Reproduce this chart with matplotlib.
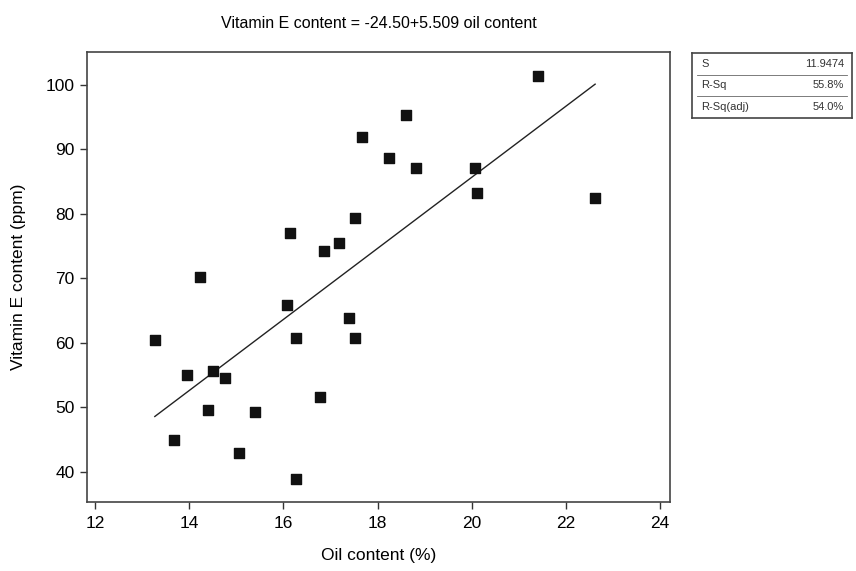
import matplotlib
matplotlib.use("Agg")
import matplotlib.pyplot as plt
import numpy as np

plt.rcParams['font.family'] = ['Liberation Sans', 'DejaVu Sans']

oil = [13.27, 13.68, 13.96, 14.24, 14.40, 14.50, 14.77, 15.05, 15.39, 16.08,
       16.15, 16.27, 16.27, 16.78, 16.86, 17.19, 17.40, 17.53, 17.53, 17.68,
       18.24, 18.60, 18.81, 20.07, 20.12, 21.41, 22.62]
vitE = [60.5, 44.9, 55.1, 70.2, 49.6, 55.7, 54.5, 43.0, 49.3, 65.9,
        77.1, 60.7, 38.9, 51.6, 74.2, 75.5, 63.9, 60.7, 79.4, 91.9,
        88.7, 95.3, 87.1, 87.1, 83.3, 101.4, 82.4]
intercept = -24.50
slope = 5.509
stat_labels = ["S", "R-Sq", "R-Sq(adj)"]
stat_values = ["11.9474", "55.8%", "54.0%"]
xticks = [12, 14, 16, 18, 20, 22, 24]
yticks = [40, 50, 60, 70, 80, 90, 100]

fig = plt.figure(figsize=(8.56, 5.71), dpi=100)
ax = fig.add_axes([87/856, 1-502/571, (670-87)/856, (502-52)/571])

ax.scatter(oil, vitE, marker='s', s=45, color='#111111', zorder=3)
xl = np.array([min(oil), max(oil)])
ax.plot(xl, intercept + slope*xl, color='#222222', lw=1.0)

ax.set_xlim(11.83, 24.21)
ax.set_ylim(35.35, 105.1)
ax.set_xticks(xticks)
ax.set_yticks(yticks)
ax.tick_params(direction='out', length=5, width=1, labelsize=12.5, color='#333333')
ax.tick_params(axis='x', pad=5)
ax.tick_params(axis='y', pad=4)
for s in ax.spines.values():
    s.set_color('#444444')
    s.set_linewidth(1.2)
ax.set_xlabel("Oil content (%)", fontsize=12.5, labelpad=12)
ax.set_ylabel("Vitamin E content (ppm)", fontsize=12.5, labelpad=14)
ax.set_title("Vitamin E content = -24.50+5.509 oil content", fontsize=11.5, pad=17)

# stats box
bx = fig.add_axes([692/856, 1-118/571, (852-692)/856, (118-53)/571])
bx.set_xlim(0, 1)
bx.set_ylim(0, 3)
bx.set_xticks([])
bx.set_yticks([])
for s in bx.spines.values():
    s.set_color('#444444')
    s.set_linewidth(1.2)
for i in (1, 2):
    bx.axhline(i, color='#666666', lw=0.6, xmin=0.03, xmax=0.97)
for i, (lab, val) in enumerate(zip(stat_labels, stat_values)):
    yy = 2.5 - i
    bx.text(0.06, yy, lab, fontsize=8, va='center', ha='left', color='#333333')
    bx.text(0.95, yy, val, fontsize=8, va='center', ha='right', color='#333333')

fig.savefig("out.png", dpi=100)
